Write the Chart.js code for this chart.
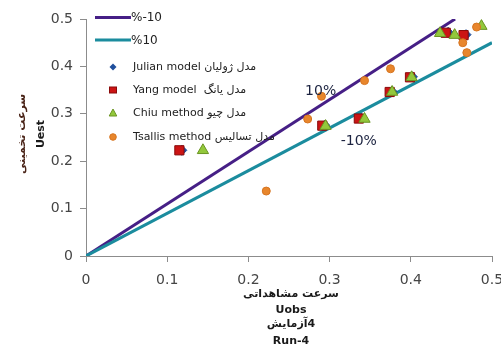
<!DOCTYPE html>
<html>
<head>
<meta charset="utf-8">
<script src="https://cdn.jsdelivr.net/npm/chart.js@4/dist/chart.umd.min.js"></script>
<style>
  html, body { margin: 0; padding: 0; background: #ffffff; }
  canvas { display: block; }
</style>
</head>
<body>
<canvas id="chart" width="501" height="349"></canvas>
<script>
// Observed (Uobs) vs estimated (Uest) velocity, Run-4
const axisTicks = [0, 0.1, 0.2, 0.3, 0.4, 0.5];

// +/-10% error bounds
const plus10X = [0, 0.4545];
const plus10Y = [0, 0.5];
const minus10X = [0, 0.5];
const minus10Y = [0, 0.45];

const julianX = [0.118, 0.294, 0.339, 0.377, 0.402, 0.446, 0.468];
const julianY = [0.223, 0.276, 0.291, 0.347, 0.378, 0.472, 0.467];

const yangX = [0.115, 0.291, 0.336, 0.374, 0.399, 0.443, 0.465];
const yangY = [0.223, 0.275, 0.290, 0.346, 0.377, 0.471, 0.466];

const chiuX = [0.144, 0.295, 0.343, 0.377, 0.401, 0.436, 0.454, 0.487];
const chiuY = [0.223, 0.274, 0.289, 0.346, 0.377, 0.470, 0.466, 0.485];

const tsallisX = [0.222, 0.273, 0.290, 0.343, 0.375, 0.464, 0.469, 0.481];
const tsallisY = [0.137, 0.289, 0.337, 0.370, 0.395, 0.450, 0.429, 0.483];

const seriesNames = ['%-10', '%10', 'Julian model مدل ژولیان', 'Yang model  مدل یانگ', 'Chiu method مدل چیو', 'Tsallis method مدل تسالیس'];
// each title line is a list of pieces laid out left to right
const xTitleLines = [['سرعت مشاهداتی'], ['Uobs'], ['آزمایش', '4'], ['Run-4']];
const yTitleLines = ['سرعت تخمینی', 'Uest'];
const boundLabels = [
  { text: '10%', x: 0.289, y: 0.347 },
  { text: '-10%', x: 0.336, y: 0.241 }
];

const toPoints = (xs, ys) => xs.map((x, i) => ({ x: x, y: ys[i] }));

const COLORS = {
  plus: '#461f86',
  minus: '#1b8c9e',
  julian: '#1f4f9c',
  yang: '#cc1414',
  yangEdge: '#8a0a0a',
  chiu: '#93c83c',
  chiuEdge: '#6a9422',
  tsallis: '#e8862c',
  tsallisEdge: '#d67420',
  axis: '#8c8c8c',
  tick: '#454545'
};

const FONT = '"DejaVu Sans", Verdana, sans-serif';

// legend, axis titles and bound labels drawn on top of the plot
const decorations = {
  id: 'decorations',
  afterDraw(chart) {
    const ctx = chart.ctx;
    const xs = chart.scales.x, ys = chart.scales.y;
    ctx.save();

    // bound labels
    ctx.font = '14px ' + FONT;
    ctx.fillStyle = '#1c2340';
    ctx.textAlign = 'center';
    ctx.textBaseline = 'middle';
    boundLabels.forEach(l => {
      ctx.fillText(l.text, xs.getPixelForValue(l.x), ys.getPixelForValue(l.y));
    });

    // legend
    const lx = 95, tx = 131;
    const rows = [17.5, 40, 67, 90, 113, 137];
    ctx.textAlign = 'left';
    ctx.lineCap = 'butt';
    [COLORS.plus, COLORS.minus].forEach((c, i) => {
      ctx.strokeStyle = c;
      ctx.lineWidth = 3;
      ctx.beginPath();
      ctx.moveTo(lx, rows[i]);
      ctx.lineTo(tx, rows[i]);
      ctx.stroke();
    });
    const mx = 113;
    ctx.lineWidth = 1;
    // diamond
    ctx.fillStyle = COLORS.julian;
    ctx.beginPath();
    ctx.moveTo(mx, rows[2] - 3.5); ctx.lineTo(mx + 3.5, rows[2]);
    ctx.lineTo(mx, rows[2] + 3.5); ctx.lineTo(mx - 3.5, rows[2]);
    ctx.closePath(); ctx.fill();
    // square
    ctx.fillStyle = COLORS.yang; ctx.strokeStyle = COLORS.yangEdge;
    ctx.fillRect(mx - 3.5, rows[3] - 3, 7, 6);
    ctx.strokeRect(mx - 3.5, rows[3] - 3, 7, 6);
    // triangle
    ctx.fillStyle = COLORS.chiu; ctx.strokeStyle = COLORS.chiuEdge;
    ctx.beginPath();
    ctx.moveTo(mx, rows[4] - 4); ctx.lineTo(mx + 3.8, rows[4] + 3); ctx.lineTo(mx - 3.8, rows[4] + 3);
    ctx.closePath(); ctx.fill(); ctx.stroke();
    // circle
    ctx.fillStyle = COLORS.tsallis; ctx.strokeStyle = COLORS.tsallisEdge;
    ctx.beginPath(); ctx.arc(mx, rows[5], 3.3, 0, Math.PI * 2); ctx.fill(); ctx.stroke();

    ctx.fillStyle = '#222222';
    seriesNames.forEach((n, i) => {
      ctx.font = (i < 2 ? '12px ' : '11px ') + FONT;
      ctx.fillText(n, i < 2 ? tx : 133, rows[i] + 0.5);
    });

    // x axis title, one line per entry, centred under the plot
    const cx = 291;
    ctx.textAlign = 'left';
    ctx.fillStyle = '#1a1a1a';
    ctx.font = 'bold 11px ' + FONT;
    [294, 310, 324, 341].forEach((y, i) => {
      const parts = xTitleLines[i];
      const widths = parts.map(p => ctx.measureText(p).width);
      let x = cx - widths.reduce((a, b) => a + b, 0) / 2;
      parts.forEach((p, k) => { ctx.fillText(p, x, y); x += widths[k]; });
    });

    // y axis title
    ctx.textAlign = 'center';
    ctx.translate(0, 134);
    ctx.rotate(-Math.PI / 2);
    ctx.fillStyle = '#4a2418';
    ctx.fillText(yTitleLines[0], 0, 22);
    ctx.fillStyle = '#1a1a1a';
    ctx.fillText(yTitleLines[1], 0, 41);
    ctx.restore();
  }
};

const axisCommon = {
  type: 'linear',
  min: 0,
  max: 0.5,
  afterBuildTicks: s => { s.ticks = axisTicks.map(v => ({ value: v })); },
  grid: { display: true, drawOnChartArea: false, drawTicks: true, tickLength: 6, tickColor: COLORS.axis, tickWidth: 1 },
  border: { display: true, color: COLORS.axis, width: 1 },
  ticks: { color: COLORS.tick, font: { family: FONT, size: 14 }, padding: 7 }
};

new Chart(document.getElementById('chart'), {
  type: 'scatter',
  data: {
    datasets: [
      { label: seriesNames[0], type: 'line', data: toPoints(plus10X, plus10Y), borderColor: COLORS.plus, borderWidth: 3, pointRadius: 0, fill: false, order: 10 },
      { label: seriesNames[1], type: 'line', data: toPoints(minus10X, minus10Y), borderColor: COLORS.minus, borderWidth: 3, pointRadius: 0, fill: false, order: 9 },
      { label: seriesNames[2], data: toPoints(julianX, julianY), pointStyle: 'rectRot', pointRadius: 5, backgroundColor: COLORS.julian, borderColor: COLORS.julian, borderWidth: 1, order: 4 },
      { label: seriesNames[3], data: toPoints(yangX, yangY), pointStyle: 'rect', pointRadius: 6.5, backgroundColor: COLORS.yang, borderColor: COLORS.yangEdge, borderWidth: 1, order: 3 },
      { label: seriesNames[4], data: toPoints(chiuX, chiuY), pointStyle: 'triangle', pointRadius: 6.5, backgroundColor: COLORS.chiu, borderColor: COLORS.chiuEdge, borderWidth: 1, order: 2 },
      { label: seriesNames[5], data: toPoints(tsallisX, tsallisY), pointStyle: 'circle', pointRadius: 4, backgroundColor: COLORS.tsallis, borderColor: COLORS.tsallisEdge, borderWidth: 1, order: 1 }
    ]
  },
  options: {
    responsive: false,
    animation: false,
    devicePixelRatio: 1,
    layout: { padding: { left: 0, top: 19, right: 9, bottom: 0 } },
    plugins: { legend: { display: false }, tooltip: { enabled: false }, title: { display: false } },
    scales: {
      x: Object.assign({}, axisCommon, {
        position: 'bottom',
        ticks: { color: COLORS.tick, font: { family: FONT, size: 14 }, padding: 10 },
        afterFit: s => { s.height = 93; s.paddingLeft = 0; s.paddingRight = 0; }
      }),
      y: Object.assign({}, axisCommon, {
        position: 'left',
        afterFit: s => { s.width = 86; s.paddingTop = 0; s.paddingBottom = 0; }
      })
    }
  },
  plugins: [decorations]
});
</script>
</body>
</html>
